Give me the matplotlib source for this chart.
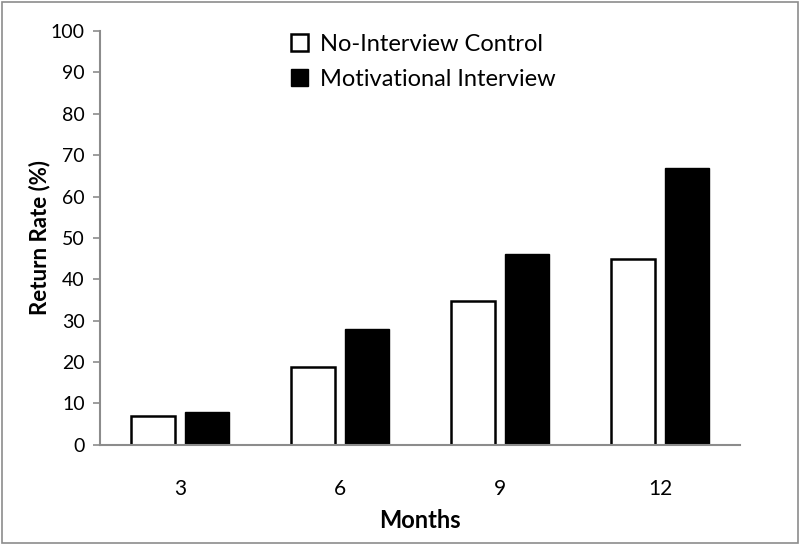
import matplotlib
matplotlib.use("Agg")
import matplotlib.pyplot as plt
import numpy as np
from matplotlib.patches import Rectangle

months = ["3", "6", "9", "12"]
control = [7.0, 18.9, 34.8, 45.0]
motivational = [8.0, 28.0, 46.0, 66.8]
series_names = ["No-Interview Control", "Motivational Interview"]

plt.rcParams['font.family'] = ['Lato', 'DejaVu Sans']

fig = plt.figure(figsize=(8, 5.45), dpi=100)
ax = fig.add_axes([0.125, 0.184, 0.8, 0.759])

x = np.arange(len(months))
w = 0.275
gap = 0.03
ax.bar(x - w/2 - gap, control, width=w, facecolor='white', edgecolor='black', linewidth=1.8, label=series_names[0])
ax.bar(x + w/2 + gap, motivational, width=w, facecolor='black', edgecolor='black', linewidth=1.0, label=series_names[1])

ax.set_xlim(-0.5, len(months) - 0.5)
ax.set_ylim(0, 100)
ax.set_yticks(np.arange(0, 101, 10))
ax.set_xticks(x)
ax.set_xticklabels(months)
ax.tick_params(axis='y', labelsize=14, length=5, color='#8c8c8c', width=1.2, pad=6)
ax.tick_params(axis='x', labelsize=15, length=0, pad=25)

for s in ['top', 'right']:
    ax.spines[s].set_visible(False)
for s in ['left', 'bottom']:
    ax.spines[s].set_color('#8c8c8c')
    ax.spines[s].set_linewidth(1.5)

ax.set_ylabel("Return Rate (%)", fontsize=16, fontweight='bold', labelpad=0)
ax.set_xlabel("Months", fontsize=17, fontweight='bold', labelpad=7)

leg = ax.legend(loc='upper center', bbox_to_anchor=(0.505, 1.045), frameon=False, fontsize=17,
                handlelength=0.7, handleheight=0.7, handletextpad=0.5, labelspacing=0.6)

fig.patches.append(Rectangle((0.002, 0.003), 0.996, 0.994, transform=fig.transFigure,
                             fill=False, edgecolor='#8c8c8c', linewidth=1.2))

fig.savefig("out.png", dpi=100)
